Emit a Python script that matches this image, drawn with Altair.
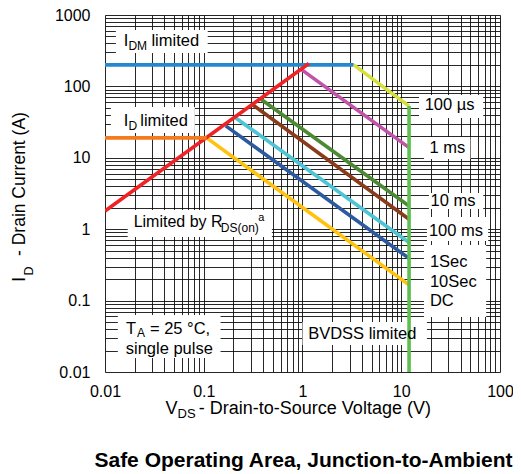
import altair as alt
import pandas as pd

# ---------------- data ----------------
series = ["IDM limited", "100 µs", "BVDSS limited", "RDS(on) limited", "ID limited",
          "1 ms", "10 ms", "100 ms", "1Sec", "10Sec", "DC"]
v_start = [0.01, 3.3, 12, 0.01, 0.01, 0.97, 0.38, 0.314, 0.206, 0.167, 0.107]
i_start = [200, 200, 53, 1.8, 19, 173, 66, 55, 37, 28, 19]
v_end = [3.3, 12, 12, 1.16, 0.107, 12, 12, 12, 12, 12, 12]
i_end = [200, 53, 0.01, 209, 19, 13.9, 2.11, 1.38, 0.65, 0.39, 0.166]
colors = ["#2388d0", "#d6e03c", "#5dbf4f", "#ee2325", "#f47a20",
          "#c154a8", "#4b8a32", "#8a3b1c", "#4fc4d6", "#2c5aa0", "#ffc20e"]
top_series = ["IDM limited", "ID limited", "RDS(on) limited", "100 µs", "BVDSS limited"]

x_majors = [0.01, 0.1, 1, 10, 100]
y_majors = [0.01, 0.1, 1, 10, 100, 1000]

FONT = "Liberation Sans, Arial, Helvetica, sans-serif"
W, H = 395, 357
F = W / 400.0  # horizontal layout factor for annotation positions

rows = []
for s, x0, y0, x1, y1 in zip(series, v_start, i_start, v_end, i_end):
    rows.append({"series": s, "k": 0, "v": x0, "i": y0})
    rows.append({"series": s, "k": 1, "v": x1, "i": y1})
df = pd.DataFrame(rows)


def minor_grid(majors):
    vals = []
    for m in majors[:-1]:
        for k in range(1, 10):
            vals.append(round(m * k, 10))
    vals.append(majors[-1])
    return vals


label_expr = ("abs(log(datum.value)/LN10 - round(log(datum.value)/LN10)) < 0.001"
              " ? format(datum.value, '~g') : ''")

common_axis = dict(title=None, grid=True, gridColor="#111111", gridWidth=1, gridOpacity=0.9,
                   ticks=False, tickSize=0, domain=False, labelFontSize=16, labelFont=FONT,
                   labelColor="black", labelOverlap=False, labelFlush=False, labelBound=False,
                   labelExpr=label_expr)

x_enc = alt.X("v:Q",
              scale=alt.Scale(type="log", domain=[0.01, 100]),
              axis=alt.Axis(values=minor_grid(x_majors), labelPadding=11, **common_axis))
y_enc = alt.Y("i:Q",
              scale=alt.Scale(type="log", domain=[0.01, 1000]),
              axis=alt.Axis(values=minor_grid(y_majors), labelPadding=15,
                            labelBaseline="middle", **common_axis))
color_enc = alt.Color("series:N", scale=alt.Scale(domain=series, range=colors), legend=None)

base = alt.Chart(df).mark_line(strokeWidth=3.6, strokeCap="butt", clip=True).encode(
    x=x_enc, y=y_enc, color=color_enc, detail="series:N", order="k:Q")

lines_under = base.transform_filter(
    alt.FieldOneOfPredicate(field="series", oneOf=[s for s in series if s not in top_series]))
lines_top = base.transform_filter(
    alt.FieldOneOfPredicate(field="series", oneOf=top_series))

one = pd.DataFrame({"a": [0]})

# ---------------- annotation boxes (pixel positions in plot area) ----------------
boxes = [
    (11, 104, 15, 38),      # IDM limited
    (6, 91, 92, 118),       # ID limited
    (23, 169, 195, 222),    # Limited by RDS(on)
    (13, 117, 300, 343),    # TA = 25 C
    (200, 326, 307, 330),   # BVDSS limited
    (318, 383, 80, 103),    # 100 us
    (323, 370, 122, 144),   # 1 ms
    (328, 383, 178, 194),   # 10 ms
    (326, 388, 202, 226),   # 100 ms
    (323, 386, 230, 302),   # 1Sec 10Sec DC
]
box_layers = [
    alt.Chart(one).mark_rect(fill="white").encode(
        x=alt.value(a * F), x2=alt.value(b * F), y=alt.value(c), y2=alt.value(d))
    for a, b, c, d in boxes
]

# text pieces: (text, x, y, size, angle, weight, align)
texts = [
    ("I", 19, 30.7, 16.5, 0, "normal", "left"),
    ("DM", 23.7, 35, 12, 0, "normal", "left"),
    ("limited", 47, 30.7, 16.5, 0, "normal", "left"),
    ("I", 19, 110.7, 16.5, 0, "normal", "left"),
    ("D", 23.7, 115, 12, 0, "normal", "left"),
    ("limited", 35.7, 110.7, 16.5, 0, "normal", "left"),
    ("Limited by R", 29, 212.3, 16, 0, "normal", "left"),
    ("DS(on)", 117.3, 216.5, 12, 0, "normal", "left"),
    ("a", 155.3, 206, 11, 0, "normal", "left"),
    ("T", 21.3, 318.5, 16.5, 0, "normal", "left"),
    ("A", 32.5, 321.5, 12, 0, "normal", "left"),
    ("= 25 °C,", 45.5, 318.5, 16.5, 0, "normal", "left"),
    ("single pulse", 21, 338.5, 16.5, 0, "normal", "left"),
    ("BVDSS limited", 205.7, 324.3, 16.5, 0, "normal", "left"),
    ("100 µs", 323.7, 95, 16.5, 0, "normal", "left"),
    ("1 ms", 328.7, 137.7, 16.5, 0, "normal", "left"),
    ("10 ms", 329.7, 191, 16.5, 0, "normal", "left"),
    ("100 ms", 328, 220.7, 16.5, 0, "normal", "left"),
    ("1Sec", 329, 251.7, 16.5, 0, "normal", "left"),
    ("10Sec", 329, 271.7, 16.5, 0, "normal", "left"),
    ("DC", 329, 291, 16.5, 0, "normal", "left"),
    # x-axis title
    ("V", 61.3, 399, 18, 0, "normal", "left"),
    ("DS", 73.5, 403, 13, 0, "normal", "left"),
    ("- Drain-to-Source Voltage (V)", 95, 399, 18, 0, "normal", "left"),
    # chart title
    ("Safe Operating Area, Junction-to-Ambient", 201, 451.7, 21, 0, "bold", "center"),
]
# y-axis title (rotated), x positions measured from the page, left of the plot
ytitle = [
    ("I", -80, 266.7, 17.5),
    ("D", -72, 260.5, 12.5),
    ("- Drain Current (A)", -80, 241, 17.5),
]

text_layers = [
    alt.Chart(one).mark_text(text=t, fontSize=s, angle=ang, fontWeight=w, align=al,
                             baseline="alphabetic", font=FONT, color="black").encode(
        x=alt.value(x * F), y=alt.value(y))
    for t, x, y, s, ang, w, al in texts
] + [
    alt.Chart(one).mark_text(text=t, fontSize=s, angle=270, align="left",
                             baseline="alphabetic", font=FONT, color="black").encode(
        x=alt.value(x), y=alt.value(y))
    for t, x, y, s in ytitle
]

chart = alt.layer(*box_layers, lines_under, lines_top, *text_layers).properties(
    width=W, height=H,
    autosize=alt.AutoSizeParams(type="none"),
    padding={"left": 97, "top": 7, "right": 13, "bottom": 101},
).configure_view(stroke="black", strokeWidth=2.6).configure(background="white")

chart.save("out.html", embed_options={"renderer": "svg", "actions": False})
